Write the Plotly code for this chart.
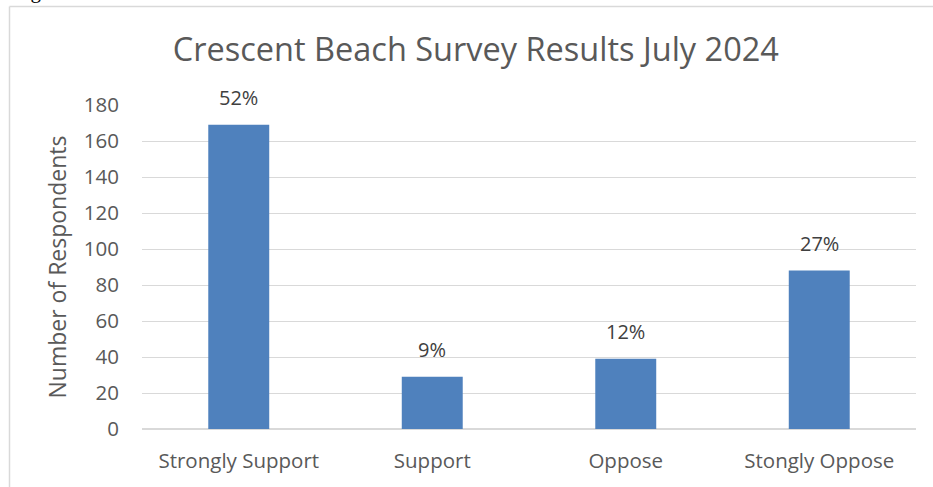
import plotly.graph_objects as go

categories = ["Strongly Support", "Support", "Oppose", "Stongly Oppose"]
respondents = [169, 29, 39, 88]
pct_labels = ["52%", "9%", "12%", "27%"]
y_ticks = [0, 20, 40, 60, 80, 100, 120, 140, 160, 180]

W, H = 933, 487
L, R, T, B = 142, 17, 105, 58
pw, ph = W - L - R, H - T - B

def px_x(x):
    return (x - L) / pw

def px_y(y):
    return (H - B - y) / ph

fig = go.Figure(go.Bar(
    x=categories, y=respondents,
    marker=dict(color="#4f81bd", line=dict(width=0)),
    hoverinfo="skip",
))

for c, v, t in zip(categories, respondents, pct_labels):
    fig.add_annotation(x=c, y=v, text=t, showarrow=False,
                       xanchor="center", yanchor="bottom", yshift=12,
                       font=dict(size=20, color="#404040", family="Open Sans"))

fig.add_annotation(xref="paper", yref="paper", x=px_x(12), y=px_y(4),
                   xanchor="left", yanchor="bottom", text="Figure",
                   showarrow=False, borderpad=0,
                   font=dict(size=21, color="black", family="Liberation Serif"))

fig.update_layout(
    width=W, height=H,
    margin=dict(l=L, r=R, t=T, b=B),
    paper_bgcolor="white", plot_bgcolor="white",
    bargap=0.685,
    showlegend=False,
    font=dict(family="Open Sans", color="#595959"),
    title=dict(text="Crescent Beach Survey Results July 2024",
               x=0.51, xanchor="center", y=1 - 50 / H, yanchor="middle",
               font=dict(size=32.5, color="#595959", family="Open Sans")),
    xaxis=dict(showgrid=False, showline=False, ticks="",
               ticklabelstandoff=17,
               tickfont=dict(size=20.5, color="#595959")),
    yaxis=dict(range=[0, 180], tickvals=y_ticks, showgrid=True,
               gridcolor="#d9d9d9", gridwidth=1, zeroline=True,
               zerolinecolor="#d9d9d9", showline=False, ticks="",
               ticklabelstandoff=22,
               tickfont=dict(size=20.5, color="#595959"),
               title=dict(text="Number of Respondents", standoff=10,
                          font=dict(size=23, color="#595959"))),
    shapes=[
        dict(type="line", xref="paper", yref="paper",
             x0=px_x(9.5), x1=px_x(9.5), y0=px_y(6.5), y1=px_y(H),
             line=dict(color="#d9d9d9", width=1.5)),
        dict(type="line", xref="paper", yref="paper",
             x0=px_x(9.5), x1=px_x(W), y0=px_y(6.5), y1=px_y(6.5),
             line=dict(color="#d9d9d9", width=1.5)),
    ],
)

fig.write_html("out.html",
               config={"displayModeBar": False, "staticPlot": True},
               post_script="document.body.style.margin='0';"
                           "document.body.style.overflow='hidden';"
                           "document.documentElement.style.overflow='hidden';")
